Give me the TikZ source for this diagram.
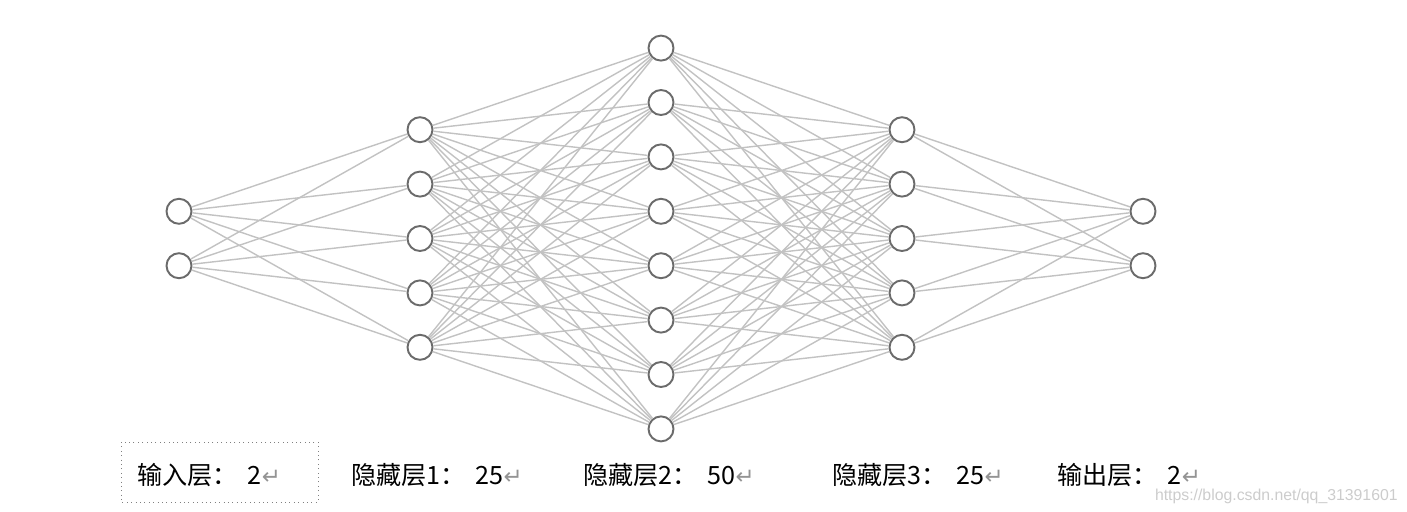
\documentclass[tikz,border=0pt]{standalone}
\usepackage{fontspec}
\setmainfont{Noto Sans CJK SC}
\newfontfamily\symfont{DejaVu Sans}
\newfontfamily\markfont{Liberation Sans}
\usetikzlibrary{positioning}

\newcommand{\retmark}{{\color{black!42}\symfont\fontsize{13}{15}\selectfont ↵}}
\newcommand{\colgap}{：\hspace{0.2cm}}

\begin{document}
\begin{tikzpicture}[
        x=0.02cm, y=-0.02cm,
        neuron/.style={circle, draw=black!58, line width=1.1pt, fill=white, minimum size=0.5cm, inner sep=0pt},
        link/.style={draw=black!24, line width=0.8pt},
        layername/.style={anchor=base west, inner sep=0pt, font=\fontsize{14.3}{17}\selectfont},
        webmark/.style={anchor=base east, inner sep=0pt, text=black!20, font=\markfont\fontsize{9}{11}\selectfont}
    ]
        \useasboundingbox (0,0) rectangle (1407,511);

        % neurons of each layer
        \foreach \i in {1,...,2} \node[neuron] (a\i) at (179, {238.5+(\i-1.5)*54.4}) {};
        \foreach \i in {1,...,5} \node[neuron] (b\i) at (420, {238.5+(\i-3)*54.4}) {};
        \foreach \i in {1,...,8} \node[neuron] (c\i) at (661, {238.5+(\i-4.5)*54.4}) {};
        \foreach \i in {1,...,5} \node[neuron] (d\i) at (902, {238.5+(\i-3)*54.4}) {};
        \foreach \i in {1,...,2} \node[neuron] (e\i) at (1143, {238.5+(\i-1.5)*54.4}) {};

        % full connections
        \foreach \i in {1,...,2} \foreach \j in {1,...,5} \draw[link] (a\i) -- (b\j);
        \foreach \i in {1,...,5} \foreach \j in {1,...,8} \draw[link] (b\i) -- (c\j);
        \foreach \i in {1,...,8} \foreach \j in {1,...,5} \draw[link] (c\i) -- (d\j);
        \foreach \i in {1,...,5} \foreach \j in {1,...,2} \draw[link] (d\i) -- (e\j);

        % layer labels
        \node[layername] (inname) at (137,484) {输入层\colgap 2\retmark};
        \node[layername] (h1name) at (351,484) {隐藏层1\colgap 25\retmark};
        \node[layername] (h2name) at (583,484) {隐藏层2\colgap 50\retmark};
        \node[layername] (h3name) at (832,484) {隐藏层3\colgap 25\retmark};
        \node[layername] (outname) at (1057,484) {输出层\colgap 2\retmark};
        \draw[black!50, dotted, line width=0.5pt] (121,442) rectangle (318,502);

        \node[webmark] (site) at (1398,500) {https://blog.csdn.net/qq\_31391601};
    \end{tikzpicture}
\end{document}
